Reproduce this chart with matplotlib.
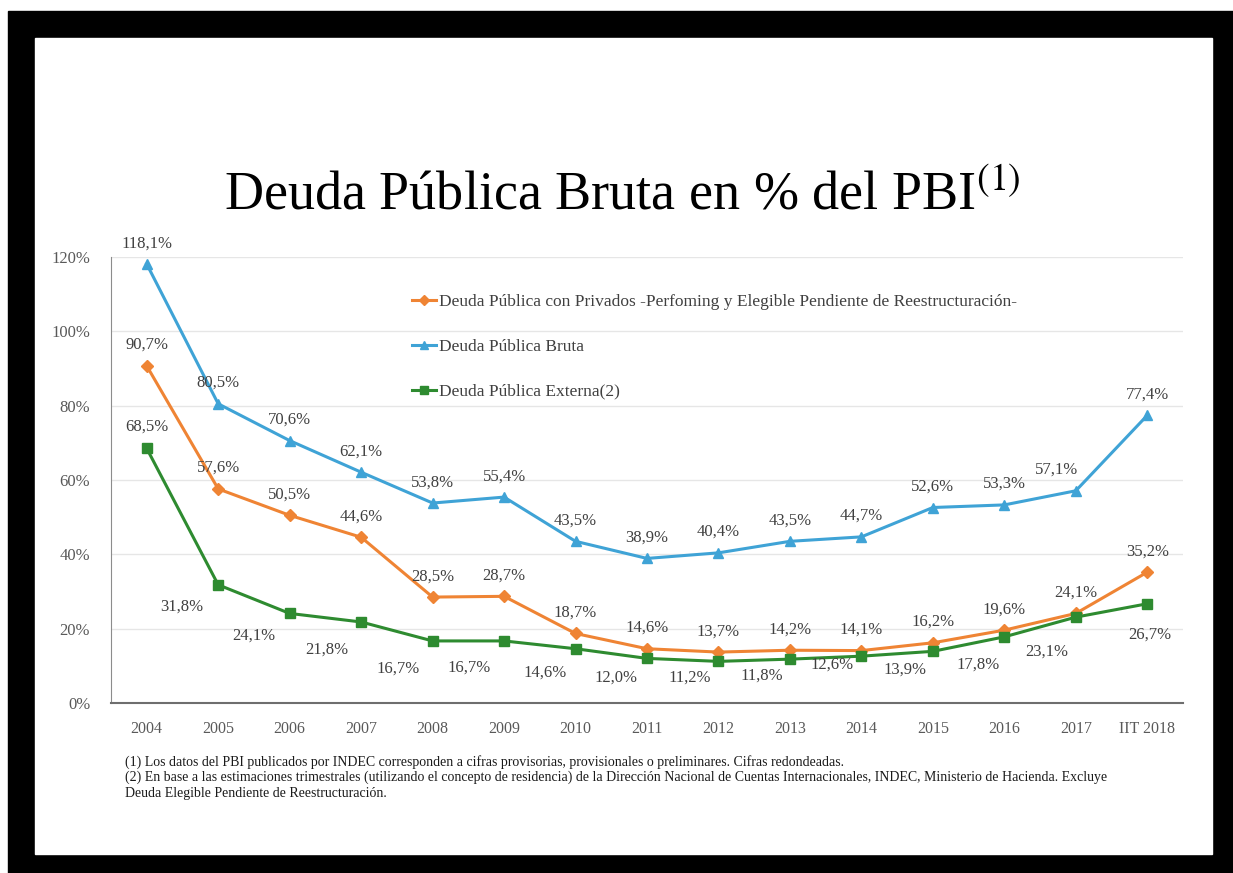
import matplotlib.pyplot as plt
from matplotlib.patches import Rectangle
from matplotlib.ticker import FuncFormatter

# Datos (% del PBI)
periodos = ['2004', '2005', '2006', '2007', '2008', '2009', '2010', '2011',
            '2012', '2013', '2014', '2015', '2016', '2017', 'IIT 2018']
deuda_privados = [90.7, 57.6, 50.5, 44.6, 28.5, 28.7, 18.7, 14.6,
                  13.7, 14.2, 14.1, 16.2, 19.6, 24.1, 35.2]
deuda_bruta = [118.1, 80.5, 70.6, 62.1, 53.8, 55.4, 43.5, 38.9,
               40.4, 43.5, 44.7, 52.6, 53.3, 57.1, 77.4]
deuda_externa = [68.5, 31.8, 24.1, 21.8, 16.7, 16.7, 14.6, 12.0,
                 11.2, 11.8, 12.6, 13.9, 17.8, 23.1, 26.7]

nombres = ['Deuda Pública con Privados -Perfoming y Elegible Pendiente de Reestructuración-',
           'Deuda Pública Bruta',
           'Deuda Pública Externa(2)']

NARANJA = '#EF8434'
AZUL = '#3FA3D6'
VERDE = '#2E8B30'
GRIS = '#595959'

plt.rcParams['font.family'] = ['Liberation Serif', 'DejaVu Serif']
plt.rcParams['mathtext.fontset'] = 'stix'

fig = plt.figure(figsize=(12.33, 8.73), dpi=100)
W, H = 1233, 873

# marco negro
fig.patches.append(Rectangle((8 / W, 0), 1 - 8 / W, (H - 11) / H,
                             transform=fig.transFigure, color='black', zorder=-20))
fig.patches.append(Rectangle((35 / W, (H - 854) / H), (1212 - 35) / W, (854 - 38) / H,
                             transform=fig.transFigure, color='white', zorder=-10))

ax = fig.add_axes([111 / W, (H - 703) / H, (1183 - 111) / W, (703 - 257) / H])
ax.set_facecolor('white')

x = list(range(len(periodos)))
ax.plot(x, deuda_privados, color=NARANJA, marker='D', markersize=6, lw=2.2, label=nombres[0], zorder=3)
ax.plot(x, deuda_bruta, color=AZUL, marker='^', markersize=7, lw=2.2, label=nombres[1], zorder=3)
ax.plot(x, deuda_externa, color=VERDE, marker='s', markersize=7, lw=2.2, label=nombres[2], zorder=3)

ax.set_xlim(-0.5, len(periodos) - 0.5)
ax.set_ylim(0, 120)
ax.set_yticks(range(0, 121, 20))
ax.yaxis.set_major_formatter(FuncFormatter(lambda v, p: f'{v:.0f}%'))
ax.set_xticks(x)
ax.set_xticklabels(periodos)
ax.grid(axis='y', color='#E6E6E6', lw=1)
ax.set_axisbelow(True)
ax.tick_params(length=0, colors=GRIS)
ax.tick_params(axis='x', labelsize=11.5, pad=13)
ax.tick_params(axis='y', labelsize=12, pad=15)
for s in ['top', 'right']:
    ax.spines[s].set_visible(False)
ax.spines['left'].set_color('#8C8C8C')
ax.spines['bottom'].set_color('#6E6E6E')
ax.spines['bottom'].set_linewidth(1.5)


def fmt(v):
    return f'{v:.1f}%'.replace('.', ',')


# etiquetas de datos (desplazamientos en puntos)
for i, v in enumerate(deuda_bruta):
    dx = -14 if i == 13 else 0
    ax.annotate(fmt(v), (i, v), xytext=(dx, 15), textcoords='offset points',
                ha='center', va='center', fontsize=12, color='#404040')
for i, v in enumerate(deuda_privados):
    ax.annotate(fmt(v), (i, v), xytext=(0, 15), textcoords='offset points',
                ha='center', va='center', fontsize=12, color='#404040')
off_ext = [(0, 16), (-26, -16), (-26, -16), (-25, -20), (-25, -20), (-25, -19),
           (-22, -17), (-22, -14), (-21, -12), (-20, -12), (-21, -6), (-20, -13),
           (-19, -20), (-21, -25), (2, -22)]
for i, v in enumerate(deuda_externa):
    ax.annotate(fmt(v), (i, v), xytext=off_ext[i], textcoords='offset points',
                ha='center', va='center', fontsize=12, color='#404040')

leg = ax.legend(loc='upper left', bbox_to_anchor=((405 - 111) / (1183 - 111), 1 - (287 - 257) / (703 - 257)),
                frameon=False, fontsize=12.5, labelspacing=1.65, handlelength=1.4,
                handletextpad=0.15, borderaxespad=0, markerscale=0.85)
for t in leg.get_texts():
    t.set_color('#404040')

fig.text(622 / W, 1 - 197 / H, 'Deuda Pública Bruta en % del PBI$^{(1)}$', ha='center', va='center',
         fontsize=39, color='black')

notas = ['(1) Los datos del PBI publicados por INDEC corresponden a cifras provisorias, provisionales o preliminares. Cifras redondeadas.',
         '(2) En base a las estimaciones trimestrales (utilizando el concepto de residencia) de la Dirección Nacional de Cuentas Internacionales, INDEC, Ministerio de Hacienda. Excluye',
         'Deuda Elegible Pendiente de Reestructuración.']
for k, n in enumerate(notas):
    fig.text(125 / W, 1 - (762 + k * 15.5) / H, n, ha='left', va='center', fontsize=10, color='#1A1A1A')

fig.savefig('out.png', dpi=100)
